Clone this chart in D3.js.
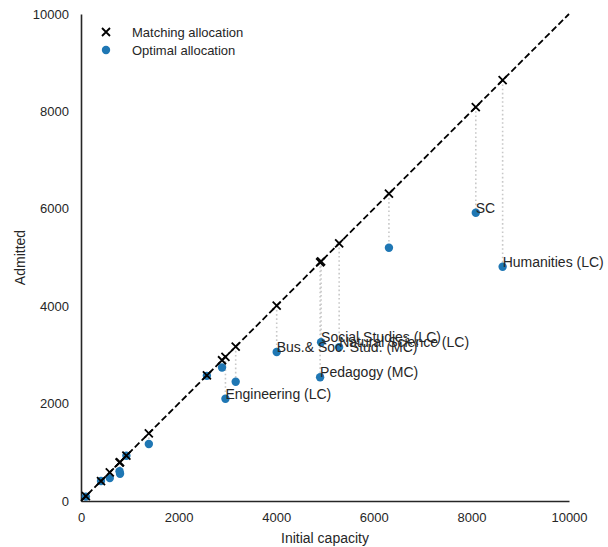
<!DOCTYPE html>
<html>
<head>
<meta charset="utf-8">
<script src="https://cdn.jsdelivr.net/npm/d3@7"></script>
<style>
  body { margin: 0; background: #fff; }
  svg text { font-family: "Liberation Sans", Arial, sans-serif; fill: #262626; }
</style>
</head>
<body>
<div id="chart"></div>
<script>
// Programmes: initial capacity, admitted under matching, admitted under optimal allocation
const capacity = [100, 410, 590, 790, 800, 930, 1390, 2580, 2890, 2960, 3170, 4010, 4900, 4920, 5290, 6310, 8090, 8640];
const matching = [100, 410, 590, 790, 800, 930, 1390, 2580, 2890, 2960, 3170, 4010, 4900, 4920, 5290, 6310, 8090, 8640];
const optimal  = [90, 410, 470, 610, 560, 930, 1170, 2570, 2740, 2100, 2450, 3060, 2540, 3260, 3160, 5200, 5920, 4810];
const labels   = ['', '', '', '', '', '', '', '', '', 'Engineering (LC)', '', 'Bus.& Soc. Stud. (MC)', 'Pedagogy (MC)',
                  'Social Studies (LC)', 'Natural Science (LC)', '', 'SC', 'Humanities (LC)'];
const ticks = [0, 2000, 4000, 6000, 8000, 10000];
const legendNames = ['Matching allocation', 'Optimal allocation'];

const W = 608, H = 547;
const margin = { top: 14, right: 39, bottom: 46, left: 81 };
const width = W - margin.left - margin.right;
const height = H - margin.top - margin.bottom;
const blue = '#1f77b4';

const svg = d3.select('#chart').append('svg')
    .attr('width', W)
    .attr('height', H)
    .append('g')
    .attr('transform', `translate(${margin.left},${margin.top})`);

const x = d3.scaleLinear().domain([0, 10000]).range([0, width]);
const y = d3.scaleLinear().domain([0, 10000]).range([height, 0]);

// Axes (no tick marks, dark spines)
const xAxis = svg.append('g')
    .attr('transform', `translate(0,${height})`)
    .call(d3.axisBottom(x).tickValues(ticks).tickSize(0).tickPadding(12).tickFormat(d3.format('d')));
const yAxis = svg.append('g')
    .call(d3.axisLeft(y).tickValues(ticks).tickSize(0).tickPadding(12).tickFormat(d3.format('d')));
[xAxis, yAxis].forEach(a => {
    a.select('.domain').attr('stroke', '#262626').attr('stroke-width', 1.6);
    a.selectAll('text').style('font-size', '13px').attr('fill', '#262626');
});

// Axis titles
svg.append('text')
    .attr('x', width / 2)
    .attr('y', height + 42)
    .style('text-anchor', 'middle')
    .style('font-size', '14px')
    .text('Initial capacity');

svg.append('text')
    .attr('transform', 'rotate(-90)')
    .attr('x', -height / 2)
    .attr('y', -56)
    .style('text-anchor', 'middle')
    .style('font-size', '14px')
    .text('Admitted');

// Dotted connectors between matching and optimal
svg.selectAll('.gap')
    .data(capacity)
    .enter()
    .append('line')
    .attr('x1', d => x(d))
    .attr('x2', d => x(d))
    .attr('y1', (d, i) => y(matching[i]))
    .attr('y2', (d, i) => y(optimal[i]))
    .attr('stroke', '#c8c8c8')
    .attr('stroke-width', 1.6)
    .attr('stroke-dasharray', '1.6,2.6');

// Optimal allocation points
svg.selectAll('.opt')
    .data(capacity)
    .enter()
    .append('circle')
    .attr('cx', d => x(d))
    .attr('cy', (d, i) => y(optimal[i]))
    .attr('r', 4.2)
    .attr('fill', blue);

// Diagonal y = x
svg.append('line')
    .attr('x1', x(0)).attr('y1', y(0))
    .attr('x2', x(10000)).attr('y2', y(10000))
    .attr('stroke', '#000')
    .attr('stroke-width', 1.8)
    .attr('stroke-dasharray', '6.5,3');

// Matching allocation markers
const cross = (g, cx, cy, s) => {
    g.append('path')
        .attr('d', `M${cx - s},${cy - s}L${cx + s},${cy + s}M${cx - s},${cy + s}L${cx + s},${cy - s}`)
        .attr('stroke', '#000')
        .attr('stroke-width', 1.8)
        .attr('fill', 'none');
};
capacity.forEach((d, i) => cross(svg, x(d), y(matching[i]), 4));

// Labels
capacity.forEach((d, i) => {
    if (!labels[i]) return;
    svg.append('text')
        .attr('x', x(d))
        .attr('y', y(optimal[i]))
        .style('font-size', '14px')
        .attr('fill', '#262626')
        .text(labels[i]);
});

// Legend
const legend = svg.append('g').attr('transform', 'translate(25,18)');
cross(legend, 0, 0, 4);
legend.append('circle').attr('cx', 0).attr('cy', 18).attr('r', 4.2).attr('fill', blue);
legendNames.forEach((name, i) => {
    legend.append('text')
        .attr('x', 26)
        .attr('y', i * 18)
        .attr('dy', '0.35em')
        .style('font-size', '13px')
        .text(name);
});
</script>
</body>
</html>
